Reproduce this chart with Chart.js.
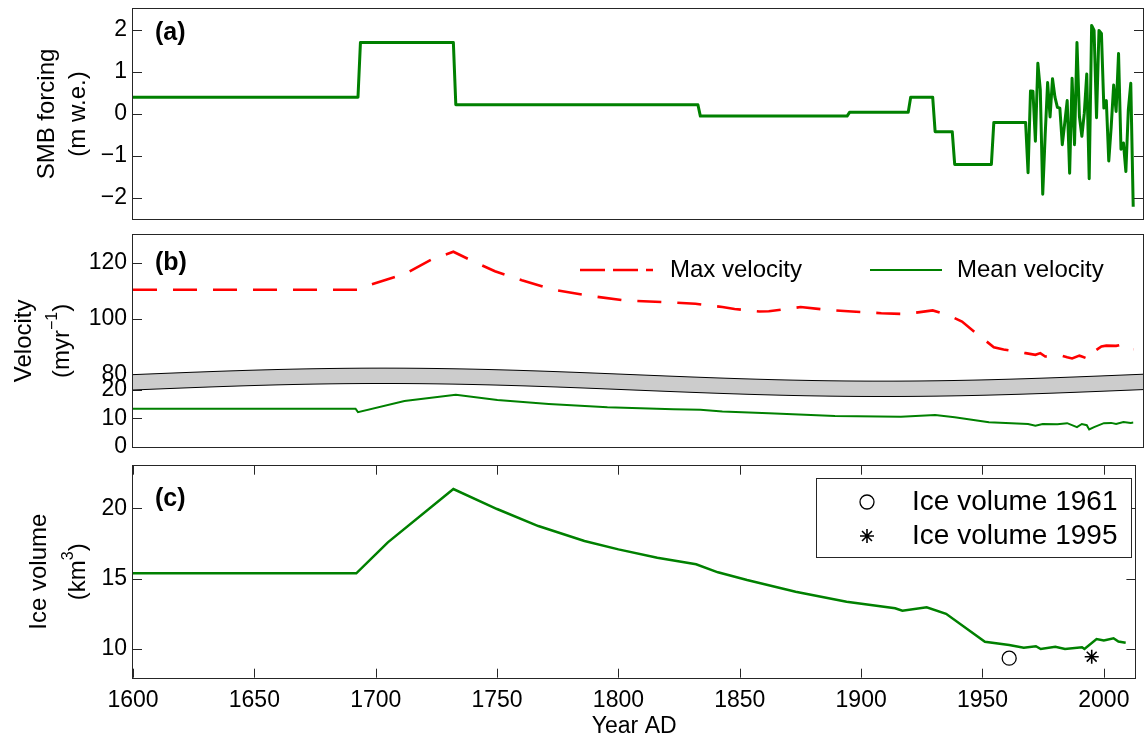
<!DOCTYPE html>
<html>
<head>
<meta charset="utf-8">
<title>Glacier SMB forcing, velocity and ice volume</title>
<script src="https://cdn.jsdelivr.net/npm/chart.js@4.4.1/dist/chart.umd.min.js"></script>
<style>
  html, body { margin: 0; padding: 0; background: #fff; }
  #wrap { position: relative; width: 1144px; height: 738px; overflow: hidden; }
  #wrap canvas { position: absolute; left: 0; }
</style>
</head>
<body>
<div id="wrap">
  <canvas id="smb" width="1144" height="228" style="top:0px"></canvas>
  <canvas id="vel" width="1144" height="228" style="top:226px"></canvas>
  <canvas id="vol" width="1144" height="282" style="top:456px"></canvas>
</div>
<script>
// ---- data -------------------------------------------------------------
const xTicks = [1600, 1650, 1700, 1750, 1800, 1850, 1900, 1950, 2000];
const smbTicks = [-2, -1, 0, 1, 2];
const velHighTicks = [80, 100, 120];
const velLowTicks = [0, 10, 20];
const volTicks = [10, 15, 20];

// (a) surface mass balance forcing, m w.e.
const smbYears = [1600, 1692, 1693, 1731, 1732, 1831, 1832, 1892, 1893, 1917, 1918, 1927, 1928,
  1935, 1936, 1951, 1952, 1965,
  1966, 1967, 1968, 1969, 1970, 1971, 1972, 1973, 1974, 1975, 1976, 1977, 1978, 1979, 1980,
  1981, 1982, 1983, 1984, 1985, 1986, 1987, 1988, 1989, 1990, 1991, 1992, 1993, 1994, 1995,
  1996, 1997, 1998, 1999, 2000, 2001, 2002, 2003, 2004, 2005, 2006, 2007, 2008, 2009];
const smbValues = [0.40, 0.40, 1.70, 1.70, 0.22, 0.22, -0.05, -0.05, 0.04, 0.04, 0.40, 0.40, -0.42,
  -0.42, -1.20, -1.20, -0.20, -0.20,
  -1.40, 0.55, 0.54, -0.65, 1.21, 0.58, -1.91, -0.50, 0.75, -0.07, 0.84, 0.40, 0.16, 0.14, -0.73,
  -0.21, 0.32, -1.41, 0.85, -0.73, 1.70, -0.06, -0.53, 0.02, 0.95, -1.54, 2.11, 1.99, -0.09, 1.99,
  1.92, 0.14, 0.32, -1.12, -0.30, 0.69, 0.06, 1.44, -0.84, -0.69, -1.37, 0.10, 0.73, -2.21];

// (b) velocities, m/yr
const maxVelYears = [1600, 1692, 1695, 1711, 1722, 1731, 1740, 1748, 1759, 1772, 1786, 1801, 1816,
  1830, 1841, 1846, 1856, 1860, 1873, 1884, 1894, 1906, 1916, 1927, 1933, 1939, 1944, 1952, 1956,
  1965, 1969, 1971, 1973, 1976, 1980, 1982, 1984, 1987, 1988, 1991, 1993, 1996, 1998, 2002, 2004,
  2006, 2009];
const maxVelValues = [110.4, 110.4, 111.6, 116.0, 121.2, 124.0, 120.2, 117.0, 113.8, 110.4, 108.3,
  106.6, 106.0, 105.4, 104.2, 103.5, 102.6, 102.7, 104.2, 103.2, 102.6, 102.0, 101.7, 103.0, 101.4,
  99.0, 95.4, 89.8, 89.0, 87.7, 87.1, 87.7, 86.5, 86.7, 86.7, 86.2, 85.8, 86.8, 86.5, 85.5, 88.3,
  90.1, 90.4, 90.3, 90.7, 88.9, 89.1];
const meanVelYears = [1600, 1691, 1692, 1711, 1732, 1749, 1770, 1794, 1821, 1832, 1841, 1860, 1887,
  1914, 1928, 1936, 1950, 1966, 1969, 1972, 1978, 1982, 1986, 1988, 1990, 1991, 1993, 1997, 2000,
  2002, 2005, 2008, 2009];
const meanVelValues = [13.4, 13.4, 12.2, 16.1, 18.3, 16.5, 15.1, 13.9, 13.2, 13.0, 12.4, 11.8, 10.8,
  10.6, 11.2, 10.4, 8.6, 8.0, 7.4, 8.0, 7.9, 8.3, 6.9, 8.0, 7.6, 6.1, 6.9, 8.3, 8.4, 8.0, 8.7, 8.4,
  8.5];

// (c) modelled ice volume, km3, and two observed volumes
const volYears = [1600, 1692, 1705, 1732, 1750, 1767, 1786, 1800, 1816, 1832, 1841, 1853, 1873,
  1894, 1914, 1917, 1927, 1935, 1951, 1961, 1967, 1972, 1974, 1980, 1984, 1991, 1992, 1997, 2000,
  2004, 2006, 2009];
const volValues = [15.38, 15.38, 17.58, 21.37, 19.95, 18.74, 17.68, 17.08, 16.49, 16.02, 15.45, 14.9,
  14.07, 13.36, 12.89, 12.72, 12.96, 12.5, 10.52, 10.28, 10.09, 10.2, 10.0, 10.16, 10.0, 10.12,
  10.0, 10.71, 10.6, 10.76, 10.53, 10.45];
const obsYears = [1961, 1995];
const obsVolumes = [9.35, 9.45];

// ---- shared styling ---------------------------------------------------
const FONT = '"Liberation Sans", Arial, Helvetica, sans-serif';
const INK = '#262626';
const GREEN = '#008000';
const RED = '#ff0000';
Chart.defaults.font.family = FONT;
Chart.defaults.color = '#000';

const pts = (xs, ys) => xs.map((x, i) => ({ x, y: ys[i] }));
const fixedTicks = (values) => (scale) => { scale.ticks = values.map((v) => ({ value: v })); };
const minus = (v) => String(v).replace('-', '\u2212');

function xScale(display) {
  return {
    type: 'linear', min: 1600, max: 2013, display,
    afterBuildTicks: fixedTicks(xTicks),
    afterFit: (s) => {
      s.paddingLeft = 0;
      s.paddingRight = 0;
      if (display) s.height = 60.3;
    },
    grid: { display: false, drawTicks: false },
    border: { display: false },
    ticks: { font: { size: 23 }, padding: 9, maxRotation: 0, autoSkip: false, callback: (v) => String(v) },
    title: { display: display, text: 'Year AD', font: { size: 23, lineHeight: 1 }, padding: 0 },
  };
}

function yScale(min, max, ticks, extra) {
  return Object.assign({
    type: 'linear', position: 'left', min, max,
    afterBuildTicks: fixedTicks(ticks),
    afterFit: (s) => {
      s.width = 133;
      s.paddingTop = 0;
      s.paddingBottom = 0;
    },
    grid: { display: false, drawTicks: false },
    border: { display: false },
    ticks: { font: { size: 23 }, padding: 6, autoSkip: false, callback: minus },
  }, extra || {});
}

// box round the plot area plus short inward tick marks
const framePlugin = {
  id: 'frame',
  afterDatasetsDraw(chart, args, o) {
    const { ctx, chartArea: a, scales } = chart;
    const len = 9;
    ctx.save();
    ctx.strokeStyle = INK;
    ctx.lineWidth = 1;
    ctx.beginPath();
    for (const id of o.yIds || []) {
      const s = scales[id];
      for (const t of s.ticks) {
        const y = Math.round(s.getPixelForValue(t.value)) + 0.5;
        ctx.moveTo(a.left, y); ctx.lineTo(a.left + len, y);
        if (o.mirrorY) { ctx.moveTo(a.right, y); ctx.lineTo(a.right - len, y); }
      }
    }
    if (o.xTicks) {
      const s = scales.x;
      for (const t of s.ticks) {
        const x = Math.round(s.getPixelForValue(t.value)) + 0.5;
        ctx.moveTo(x, a.bottom); ctx.lineTo(x, a.bottom - len);
        ctx.moveTo(x, a.top); ctx.lineTo(x, a.top + len);
      }
    }
    ctx.stroke();
    ctx.strokeRect(Math.round(a.left) - 0.5, Math.round(a.top) - 0.5,
      Math.round(a.right - a.left) + 1, Math.round(a.bottom - a.top) + 1);
    ctx.restore();
  },
};

function drawTitleLine(ctx, line, cy) {
  const big = `24px ${FONT}`;
  const small = `16px ${FONT}`;
  ctx.save();
  ctx.translate(line.x, cy);
  ctx.rotate(-Math.PI / 2);
  ctx.textAlign = 'left';
  ctx.textBaseline = 'middle';
  const widths = line.parts.map(([t, sup]) => { ctx.font = sup ? small : big; return ctx.measureText(t).width; });
  let x = -widths.reduce((s, w) => s + w, 0) / 2;
  line.parts.forEach(([t, sup], i) => {
    ctx.font = sup ? small : big;
    ctx.fillText(t, x, sup ? -9 : 0);
    x += widths[i];
  });
  ctx.restore();
}

// panel letter and the two-line y axis title
const panelTextPlugin = {
  id: 'panelText',
  afterDraw(chart, args, o) {
    const { ctx, chartArea: a } = chart;
    ctx.save();
    ctx.fillStyle = '#000';
    ctx.font = `bold 25px ${FONT}`;
    ctx.textAlign = 'left';
    ctx.textBaseline = 'middle';
    ctx.fillText(o.letter, a.left + 22, a.top + o.letterDy);
    const cy = (a.top + a.bottom) / 2;
    for (const line of o.titles) drawTitleLine(ctx, line, cy);
    ctx.restore();
  },
};

// grey wavy band marking the break between the two velocity ranges
const axisBreakPlugin = {
  id: 'axisBreak',
  afterDraw(chart, args, o) {
    const { ctx, chartArea: a, scales } = chart;
    const top = scales.yHigh.getPixelForValue(o.upperFrom);
    const bot = scales.yLow.getPixelForValue(o.lowerTo);
    const wave = (x) => -o.amplitude * Math.sin(2 * Math.PI * (x - a.left) / o.period);
    const xs = [];
    for (let x = a.left; x < a.right; x += 4) xs.push(x);
    xs.push(a.right);
    ctx.save();
    ctx.beginPath();
    xs.forEach((x, i) => (i ? ctx.lineTo(x, top + wave(x)) : ctx.moveTo(x, top + wave(x))));
    for (let i = xs.length - 1; i >= 0; i--) ctx.lineTo(xs[i], bot + wave(xs[i]));
    ctx.closePath();
    ctx.fillStyle = '#cccccc';
    ctx.fill();
    ctx.strokeStyle = '#000';
    ctx.lineWidth = 1;
    for (const base of [top, bot]) {
      ctx.beginPath();
      xs.forEach((x, i) => (i ? ctx.lineTo(x, base + wave(x)) : ctx.moveTo(x, base + wave(x))));
      ctx.stroke();
    }
    ctx.restore();
  },
};

function drawMarker(ctx, style, x, y, r) {
  ctx.beginPath();
  if (style === 'circle') {
    ctx.arc(x, y, r, 0, Math.PI * 2);
  } else {
    for (let k = 0; k < 4; k++) {
      const ang = k * Math.PI / 4;
      ctx.moveTo(x - r * Math.cos(ang), y - r * Math.sin(ang));
      ctx.lineTo(x + r * Math.cos(ang), y + r * Math.sin(ang));
    }
  }
  ctx.stroke();
}

// legends placed inside the plot area, styles taken from the datasets
const insideLegendPlugin = {
  id: 'insideLegend',
  afterDraw(chart, args, o) {
    const { ctx } = chart;
    ctx.save();
    if (o.box) {
      const b = o.box;
      ctx.fillStyle = '#fff';
      ctx.fillRect(b.x, b.y, b.w, b.h);
      ctx.strokeStyle = INK;
      ctx.lineWidth = 1;
      ctx.strokeRect(b.x + 0.5, b.y + 0.5, b.w, b.h);
    }
    ctx.font = `${o.fontSize}px ${FONT}`;
    ctx.textBaseline = 'middle';
    ctx.textAlign = 'left';
    for (const item of o.items) {
      const ds = chart.data.datasets[item.dataset];
      ctx.strokeStyle = ds.borderColor;
      if (item.marker) {
        ctx.lineWidth = ds.borderWidth;
        drawMarker(ctx, ds.pointStyle, item.x1, item.y, ds.pointRadius);
      } else {
        ctx.lineWidth = ds.borderWidth;
        ctx.setLineDash(item.dash || []);
        ctx.beginPath();
        ctx.moveTo(item.x1, item.y);
        ctx.lineTo(item.x2, item.y);
        ctx.stroke();
        ctx.setLineDash([]);
      }
      ctx.fillStyle = '#000';
      ctx.fillText(ds.label, item.tx, item.y);
    }
    ctx.restore();
  },
};

const baseOptions = {
  responsive: false,
  animation: false,
  devicePixelRatio: 1,
  events: [],
};

// ---- (a) SMB forcing --------------------------------------------------
new Chart(document.getElementById('smb'), {
  type: 'line',
  data: {
    datasets: [{
      label: 'SMB forcing', data: pts(smbYears, smbValues),
      borderColor: GREEN, borderWidth: 3, pointRadius: 0, borderJoinStyle: 'round',
    }],
  },
  options: {
    ...baseOptions,
    layout: { padding: { top: 9, right: 1, bottom: 9, left: 0 } },
    plugins: {
      legend: { display: false }, tooltip: { enabled: false },
      frame: { yIds: ['y'], mirrorY: true },
      panelText: {
        letter: '(a)', letterDy: 24,
        titles: [{ x: 47, parts: [['SMB forcing']] }, { x: 78, parts: [['(m w.e.)']] }],
      },
    },
    scales: { x: xScale(false), y: yScale(-2.5, 2.5, smbTicks) },
  },
  plugins: [framePlugin, panelTextPlugin],
});

// ---- (b) velocities on a broken axis ---------------------------------
new Chart(document.getElementById('vel'), {
  type: 'line',
  data: {
    datasets: [
      {
        label: 'Max velocity', data: pts(maxVelYears, maxVelValues), yAxisID: 'yHigh',
        borderColor: RED, borderWidth: 2.6, borderDash: [24, 16], pointRadius: 0,
      },
      {
        label: 'Mean velocity', data: pts(meanVelYears, meanVelValues), yAxisID: 'yLow',
        borderColor: GREEN, borderWidth: 2, pointRadius: 0,
      },
    ],
  },
  options: {
    ...baseOptions,
    layout: { padding: { top: 9, right: 1, bottom: 7.3, left: 0 } },
    plugins: {
      legend: { display: false }, tooltip: { enabled: false },
      frame: { yIds: ['yHigh', 'yLow'] },
      panelText: {
        letter: '(b)', letterDy: 28,
        titles: [
          { x: 24, parts: [['Velocity']] },
          { x: 62, parts: [['(myr'], ['\u22121', true], [')']] },
        ],
      },
      axisBreak: { upperFrom: 80, lowerTo: 20, amplitude: 6.5, period: 1000 },
      insideLegend: {
        fontSize: 24,
        items: [
          { dataset: 0, x1: 580, x2: 653, tx: 670, y: 44, dash: [25, 8] },
          { dataset: 1, x1: 870, x2: 942, tx: 957, y: 44 },
        ],
      },
    },
    scales: {
      x: xScale(false),
      yLow: yScale(0, 20, velLowTicks, { stack: 'vel', stackWeight: 56.7 }),
      yHigh: yScale(74.5, 130, velHighTicks, { stack: 'vel', stackWeight: 155 }),
    },
  },
  plugins: [framePlugin, panelTextPlugin, axisBreakPlugin, insideLegendPlugin],
});

// ---- (c) ice volume ---------------------------------------------------
new Chart(document.getElementById('vol'), {
  type: 'line',
  data: {
    datasets: [
      {
        label: 'Modelled volume', data: pts(volYears, volValues),
        borderColor: GREEN, borderWidth: 2.5, pointRadius: 0,
      },
      {
        label: 'Ice volume 1961', data: pts(obsYears.slice(0, 1), obsVolumes.slice(0, 1)),
        showLine: false, pointStyle: 'circle', pointRadius: 7, borderWidth: 1.3,
        borderColor: '#000', backgroundColor: 'rgba(0,0,0,0)',
      },
      {
        label: 'Ice volume 1995', data: pts(obsYears.slice(1), obsVolumes.slice(1)),
        showLine: false, pointStyle: 'star', pointRadius: 7, borderWidth: 1.6,
        borderColor: '#000', backgroundColor: '#000',
      },
    ],
  },
  options: {
    ...baseOptions,
    layout: { padding: { top: 9.7, right: 1, bottom: 0, left: 0 } },
    plugins: {
      legend: { display: false }, tooltip: { enabled: false },
      frame: { yIds: ['y'], mirrorY: true, xTicks: true },
      panelText: {
        letter: '(c)', letterDy: 33,
        titles: [
          { x: 39, parts: [['Ice volume']] },
          { x: 78, parts: [['(km'], ['3', true], [')']] },
        ],
      },
      insideLegend: {
        fontSize: 28,
        box: { x: 816, y: 22, w: 315, h: 79 },
        items: [
          { dataset: 1, marker: true, x1: 867, tx: 912, y: 46 },
          { dataset: 2, marker: true, x1: 867, tx: 912, y: 80 },
        ],
      },
    },
    scales: { x: xScale(true), y: yScale(7.96, 23.03, volTicks) },
  },
  plugins: [framePlugin, panelTextPlugin, insideLegendPlugin],
});
</script>
</body>
</html>
